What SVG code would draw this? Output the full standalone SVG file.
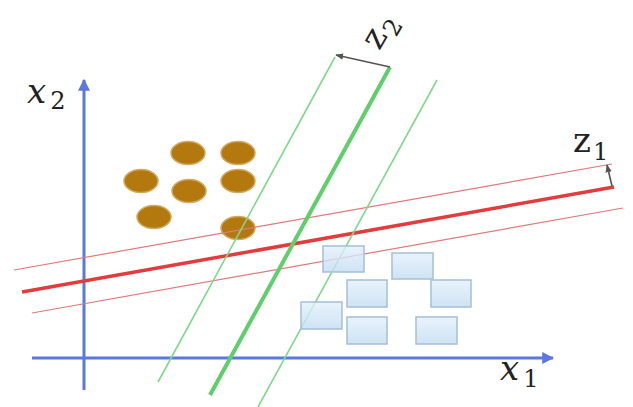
<svg xmlns="http://www.w3.org/2000/svg" width="633" height="407" viewBox="0 0 633 407">
<defs>
<style>
.axis{stroke:#5a78e0;stroke-width:3;fill:none}
.rthick{stroke:#e23c3c;stroke-width:3.5;fill:none}
.rthin{stroke:#e07a7a;stroke-width:1.2;fill:none}
.gthick{stroke:#5fcf6c;stroke-width:4;fill:none}
.gthin{stroke:#7ed98a;stroke-width:1.6;fill:none}
.garr{stroke:#555;stroke-width:1.6;fill:none}
.dot{fill:#b3790e;stroke:#d4a860;stroke-width:1.5}
.box{fill:url(#bg);fill-opacity:0.8;stroke:#a3c0d8;stroke-width:1.5}
.t{font-family:"DejaVu Serif","Liberation Serif",serif;font-size:34px;fill:#222}
.i{font-style:italic}
.s{font-size:24px;font-style:normal}
</style>
<linearGradient id="bg" x1="0" y1="0" x2="0" y2="1">
<stop offset="0" stop-color="#e3f0fb"/>
<stop offset="1" stop-color="#c3dcf1"/>
</linearGradient>
<marker id="ab" viewBox="0 0 10 10" refX="9" refY="5" markerWidth="4" markerHeight="4" orient="auto"><path d="M0,0 L10,5 L0,10 Z" fill="#5a78e0"/></marker>
<marker id="ag" viewBox="0 0 10 10" refX="9" refY="5" markerWidth="5" markerHeight="5" orient="auto"><path d="M0,1 L10,5 L0,9 Z" fill="#555"/></marker>
</defs>
<rect width="633" height="407" fill="#fff"/>
<g id="points">
<ellipse class="dot" cx="188" cy="153" rx="17" ry="11.5"/>
<ellipse class="dot" cx="238" cy="153" rx="17" ry="11.5"/>
<ellipse class="dot" cx="141" cy="181" rx="17" ry="11.5"/>
<ellipse class="dot" cx="189" cy="191" rx="17" ry="11.5"/>
<ellipse class="dot" cx="238" cy="181" rx="17" ry="11.5"/>
<ellipse class="dot" cx="154" cy="217" rx="17" ry="11.5"/>
<ellipse class="dot" cx="238" cy="228" rx="17" ry="11.5"/>
</g>
<g id="connectors">
<line class="axis" x1="84" y1="390" x2="84" y2="80" marker-end="url(#ab)"/>
<line class="axis" x1="32" y1="358" x2="553" y2="358" marker-end="url(#ab)"/>
<line class="rthin" x1="14" y1="270" x2="612" y2="164"/>
<line class="rthin" x1="32" y1="313" x2="623" y2="208"/>
<line class="rthick" x1="22" y1="292" x2="614" y2="187"/>
<line class="gthin" x1="158" y1="382" x2="335" y2="57"/>
<line class="gthin" x1="258" y1="407" x2="437" y2="80"/>
<line class="gthick" x1="210" y1="395" x2="390" y2="67"/>
<line class="garr" x1="390" y1="67" x2="336" y2="55" marker-end="url(#ag)"/>
<line class="garr" x1="612" y1="186" x2="607" y2="165" marker-end="url(#ag)"/>
</g>
<g id="squares">
<rect class="box" x="323" y="246" width="41" height="26"/>
<rect class="box" x="392" y="253" width="41" height="26"/>
<rect class="box" x="347" y="280" width="40" height="27"/>
<rect class="box" x="431" y="280" width="40" height="27"/>
<rect class="box" x="301" y="302" width="41" height="27"/>
<rect class="box" x="347" y="317" width="40" height="27"/>
<rect class="box" x="416" y="317" width="41" height="27"/>
</g>
<g id="labels">
<text class="t" x="500" y="380"><tspan class="i">x</tspan><tspan class="s" dx="4" dy="7">1</tspan></text>
<text class="t" x="27" y="103"><tspan class="i">x</tspan><tspan class="s" dx="4" dy="6">2</tspan></text>
<text class="t" x="573" y="152">z<tspan class="s" dx="2" dy="8">1</tspan></text>
<text class="t" transform="translate(388,36) rotate(-60)" text-anchor="middle">z<tspan class="s" dx="2" dy="8">2</tspan></text>
</g>
</svg>
